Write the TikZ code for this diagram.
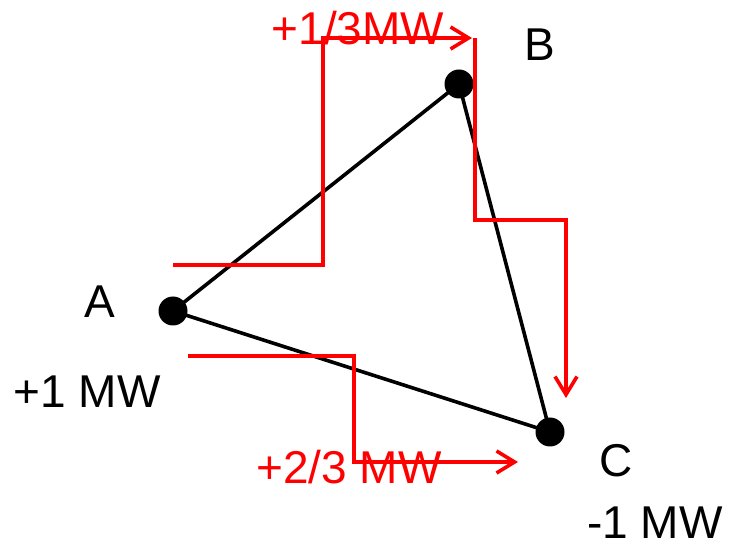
\documentclass[tikz,border=0pt]{standalone}
\usepackage{fontspec}
\setmainfont{Liberation Sans}
\usetikzlibrary{arrows.meta}
\begin{document}
\begin{tikzpicture}[x=1pt,y=-1pt,
  lbl/.style={inner sep=0pt,anchor=base,font=\fontsize{46}{50}\selectfont},
  rlbl/.style={lbl,text=red},
  dot/.style={circle,fill=black,minimum size=29pt,inner sep=0pt},
  edge/.style={line width=3.6pt,black},
  flow/.style={line width=3.6pt,red},
  flowarr/.style={flow,-{Straight Barb[length=18pt,width=22pt,line width=3.6pt]}}]
\useasboundingbox (0,0) rectangle (729,545);
\node[dot] (A) at (173,311) {};
\node[dot] (B) at (459,84) {};
\node[dot] (C) at (550,432) {};
\draw[edge] (A.center) -- (B.center) -- (C.center) -- cycle;
\node[lbl] (la) at (100,318) {A};
\node[lbl] (lb) at (540,61) {B};
\node[lbl] (lc) at (616,477) {C};
\node[lbl] (pa) at (87,408) {+1 MW};
\node[lbl] (pc) at (655,538) {-1 MW};
\node[rlbl] (f1) at (358,45) {+1/3MW};
\node[rlbl] (f2) at (349,483) {+2/3 MW};
\coordinate (s1) at (173,265);
\coordinate (t1) at (472,38);
\coordinate (s2) at (475,38);
\coordinate (t2) at (566,398);
\coordinate (s3) at (188,356);
\coordinate (t3) at (518,462);
\draw[flowarr] (s1) -- (323,265) -- (323,38) -- (t1);
\draw[flowarr] (s2) -- (475,220) -- (566,220) -- (t2);
\draw[flowarr] (s3) -- (354,356) -- (354,462) -- (t3);
\end{tikzpicture}
\end{document}
